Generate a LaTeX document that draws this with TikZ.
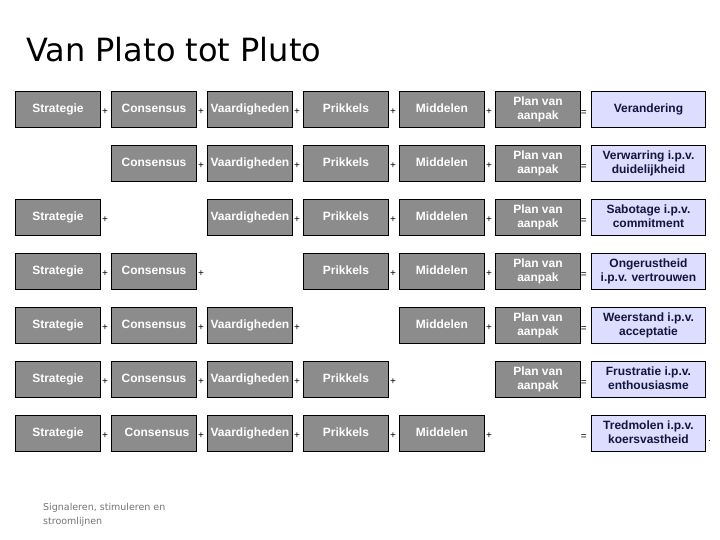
\documentclass[tikz,border=0pt]{standalone}
\usepackage{fontspec}
\setmainfont{Liberation Sans}
\newfontfamily\titlefont{DejaVu Sans}
\usetikzlibrary{positioning}
\definecolor{boxGray}{RGB}{140,140,140}
\definecolor{resFill}{RGB}{221,221,255}
\definecolor{resInk}{RGB}{20,20,60}
\definecolor{noteGray}{RGB}{115,115,115}
\newcommand{\boxstrut}{\rule[-2.4pt]{0pt}{11pt}}

\begin{document}
\begin{tikzpicture}[
      x=1pt, y=-1pt,
      box/.style={rectangle, draw=black, line width=0.9pt, fill=boxGray, text=white, anchor=north west, minimum width=85pt, minimum height=36pt, inner sep=0pt, align=center, font=\bfseries\fontsize{12}{13.5}\selectfont, execute at begin node=\boxstrut, execute at end node=\boxstrut},
      res/.style={box, fill=resFill, text=resInk, minimum width=114pt},
      plus/.style={inner sep=0pt, font=\fontsize{10}{10}\selectfont, yshift=-2.5pt},
      eq/.style={inner sep=0pt, font=\fontsize{10}{10}\selectfont, yshift=-4pt}
  ]
      \useasboundingbox (0,0) rectangle (720,540);
      \node[anchor=base west, inner sep=0pt, font=\titlefont\fontsize{32}{32}\selectfont] (title) at (26,62) {Van Plato tot Pluto};
      % rij 1: alles aanwezig
      \node[box] (str1) at (15,91) {Strategie};
      \node[plus, right=1pt of str1] (str1p) {+};
      \node[box] (con1) at (111,91) {Consensus};
      \node[plus, right=1pt of con1] (con1p) {+};
      \node[box] (vaa1) at (207,91) {Vaardigheden};
      \node[plus, right=1pt of vaa1] (vaa1p) {+};
      \node[box] (pri1) at (303,91) {Prikkels};
      \node[plus, right=1pt of pri1] (pri1p) {+};
      \node[box] (mid1) at (399,91) {Middelen};
      \node[plus, right=1pt of mid1] (mid1p) {+};
      \node[box] (pla1) at (495,91) {Plan van\\aanpak};
      \node[res] (res1) at (591,91) {Verandering};
      \node[eq, left=4pt of res1] (res1e) {=};
      % rij 2: geen strategie
      \node[box] (con2) at (111,145) {Consensus};
      \node[plus, right=1pt of con2] (con2p) {+};
      \node[box] (vaa2) at (207,145) {Vaardigheden};
      \node[plus, right=1pt of vaa2] (vaa2p) {+};
      \node[box] (pri2) at (303,145) {Prikkels};
      \node[plus, right=1pt of pri2] (pri2p) {+};
      \node[box] (mid2) at (399,145) {Middelen};
      \node[plus, right=1pt of mid2] (mid2p) {+};
      \node[box] (pla2) at (495,145) {Plan van\\aanpak};
      \node[res] (res2) at (591,145) {Verwarring i.p.v.\\duidelijkheid};
      \node[eq, left=4pt of res2] (res2e) {=};
      % rij 3: geen consensus
      \node[box] (str3) at (15,199) {Strategie};
      \node[plus, right=1pt of str3] (str3p) {+};
      \node[box] (vaa3) at (207,199) {Vaardigheden};
      \node[plus, right=1pt of vaa3] (vaa3p) {+};
      \node[box] (pri3) at (303,199) {Prikkels};
      \node[plus, right=1pt of pri3] (pri3p) {+};
      \node[box] (mid3) at (399,199) {Middelen};
      \node[plus, right=1pt of mid3] (mid3p) {+};
      \node[box] (pla3) at (495,199) {Plan van\\aanpak};
      \node[res] (res3) at (591,199) {Sabotage i.p.v.\\commitment};
      \node[eq, left=4pt of res3] (res3e) {=};
      % rij 4: geen vaardigheden
      \node[box] (str4) at (15,253) {Strategie};
      \node[plus, right=1pt of str4] (str4p) {+};
      \node[box] (con4) at (111,253) {Consensus};
      \node[plus, right=1pt of con4] (con4p) {+};
      \node[box] (pri4) at (303,253) {Prikkels};
      \node[plus, right=1pt of pri4] (pri4p) {+};
      \node[box] (mid4) at (399,253) {Middelen};
      \node[plus, right=1pt of mid4] (mid4p) {+};
      \node[box] (pla4) at (495,253) {Plan van\\aanpak};
      \node[res] (res4) at (591,253) {Ongerustheid\\i.p.v. vertrouwen};
      \node[eq, left=4pt of res4] (res4e) {=};
      % rij 5: geen prikkels
      \node[box] (str5) at (15,307) {Strategie};
      \node[plus, right=1pt of str5] (str5p) {+};
      \node[box] (con5) at (111,307) {Consensus};
      \node[plus, right=1pt of con5] (con5p) {+};
      \node[box] (vaa5) at (207,307) {Vaardigheden};
      \node[plus, right=1pt of vaa5] (vaa5p) {+};
      \node[box] (mid5) at (399,307) {Middelen};
      \node[plus, right=1pt of mid5] (mid5p) {+};
      \node[box] (pla5) at (495,307) {Plan van\\aanpak};
      \node[res] (res5) at (591,307) {Weerstand i.p.v.\\acceptatie};
      \node[eq, left=4pt of res5] (res5e) {=};
      % rij 6: geen middelen
      \node[box] (str6) at (15,361) {Strategie};
      \node[plus, right=1pt of str6] (str6p) {+};
      \node[box] (con6) at (111,361) {Consensus};
      \node[plus, right=1pt of con6] (con6p) {+};
      \node[box] (vaa6) at (207,361) {Vaardigheden};
      \node[plus, right=1pt of vaa6] (vaa6p) {+};
      \node[box] (pri6) at (303,361) {Prikkels};
      \node[plus, right=1pt of pri6] (pri6p) {+};
      \node[box] (pla6) at (495,361) {Plan van\\aanpak};
      \node[res] (res6) at (591,361) {Frustratie i.p.v.\\enthousiasme};
      \node[eq, left=4pt of res6] (res6e) {=};
      % rij 7: geen plan van aanpak
      \node[box] (str7) at (15,415) {Strategie};
      \node[plus, right=1pt of str7] (str7p) {+};
      \node[box] (con7) at (111,415) {\hspace*{6pt}Consensus};
      \node[plus, right=1pt of con7] (con7p) {+};
      \node[box] (vaa7) at (207,415) {Vaardigheden};
      \node[plus, right=1pt of vaa7] (vaa7p) {+};
      \node[box] (pri7) at (303,415) {Prikkels};
      \node[plus, right=1pt of pri7] (pri7p) {+};
      \node[box] (mid7) at (399,415) {Middelen};
      \node[plus, right=1pt of mid7] (mid7p) {+};
      \node[res] (res7) at (591,415) {Tredmolen i.p.v.\\koersvastheid};
      \node[eq, left=4pt of res7] (res7e) {=};
      \node[inner sep=0pt, font=\fontsize{10}{10}\selectfont, right=2pt of res7, yshift=-8pt] (res7d) {.};
      \node[anchor=north west, inner sep=0pt, align=left, text=noteGray, font=\titlefont\fontsize{9.5}{14}\selectfont] (note) at (43,503) {Signaleren, stimuleren en\\stroomlijnen};
  \end{tikzpicture}
\end{document}
